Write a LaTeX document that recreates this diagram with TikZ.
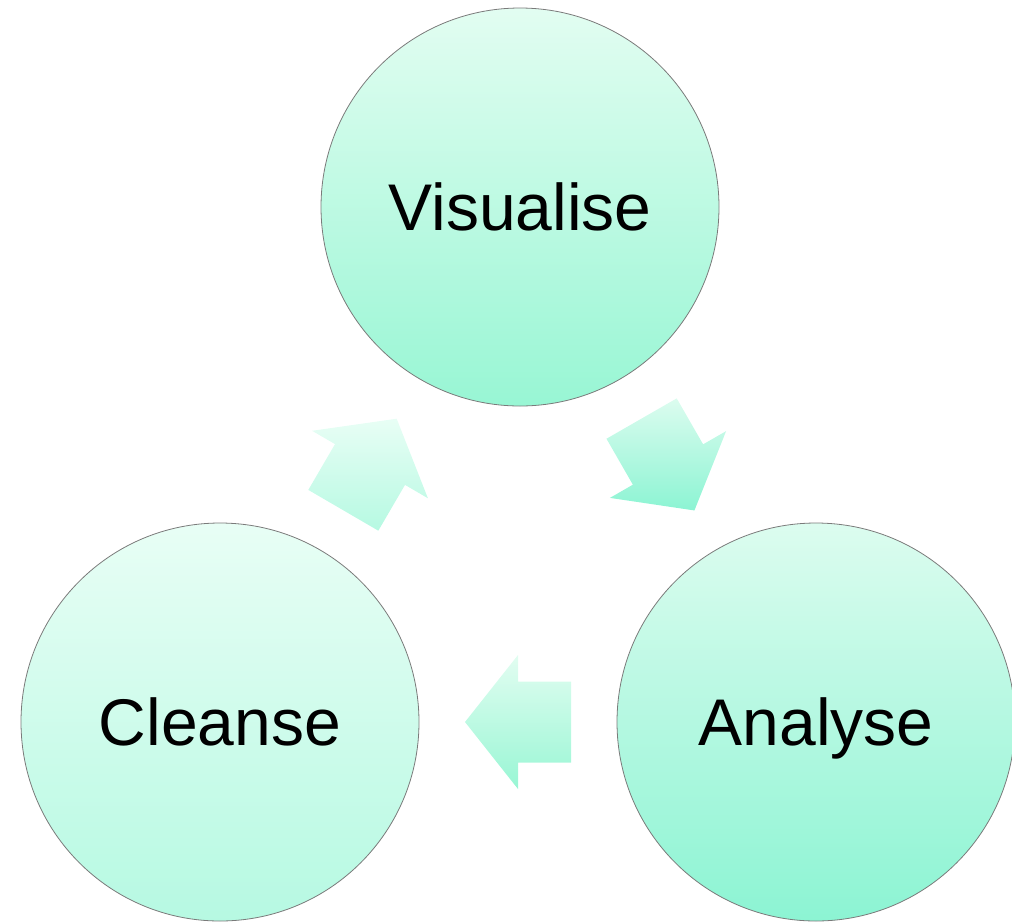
\documentclass[tikz,border=0pt]{standalone}
\usepackage{fontspec}
\setmainfont{Liberation Sans}
\usepackage{tikz}
\usetikzlibrary{shapes, calc, positioning}
\definecolor{mintTop}{HTML}{E2FDF1}
\definecolor{mintBot}{HTML}{98F6D4}
\definecolor{paleTop}{HTML}{E8FEF5}
\definecolor{paleBot}{HTML}{B6F9E2}
\definecolor{deepTop}{HTML}{DCFCEF}
\definecolor{deepBot}{HTML}{8CF4D3}
\definecolor{rimGray}{HTML}{7A7A7A}
\tikzset{
    stage/.style={circle, draw=rimGray, line width=0.8pt, minimum size=398pt, inner sep=0pt,
                  font=\fontsize{66}{79}\selectfont, text height=47pt, text depth=0pt},
    flow/.style={top color=#1Top, bottom color=#1Bot, draw=none}
}
\newcommand{\cyclearrow}[3]{%
    \coordinate (mid) at ($(#1)!0.5!(#2)$);
    \coordinate (tip) at ($(mid)!53pt!(#2)$);
    \coordinate (tail) at ($(mid)!-53pt!(#2)$);
    \shade[flow=#3] ($(tail)!40.5pt!90:(tip)$) -- ($(mid)!40.5pt!90:(tip)$) -- ($(mid)!67pt!90:(tip)$)
        -- (tip) -- ($(mid)!67pt!-90:(tip)$) -- ($(mid)!40.5pt!-90:(tip)$) -- ($(tail)!40.5pt!-90:(tip)$) -- cycle;
}

\begin{document}
\begin{tikzpicture}[x=1pt, y=-1pt]
    \useasboundingbox (0,0) rectangle (1012,922);
    \node[stage, top color=mintTop, bottom color=mintBot] (visualise) at (520,207) {Visualise};
    \node[stage, top color=deepTop, bottom color=deepBot] (analyse) at (816,722) {Analyse};
    \node[stage, top color=paleTop, bottom color=paleBot] (cleanse) at (220,722) {Cleanse};
    \cyclearrow{visualise}{analyse}{deep}
    \cyclearrow{analyse}{cleanse}{mint}
    \cyclearrow{cleanse}{visualise}{pale}
\end{tikzpicture}
\end{document}
